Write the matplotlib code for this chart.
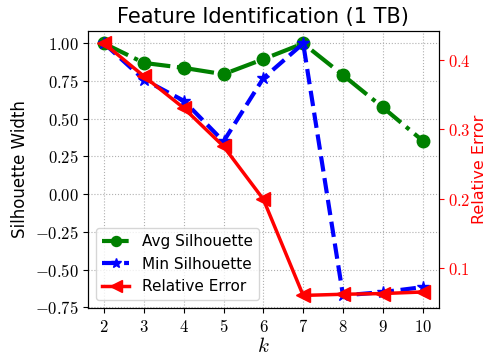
import numpy as np
import matplotlib
matplotlib.use("Agg")
import matplotlib.pyplot as plt
from matplotlib.ticker import FuncFormatter

plt.rcParams['mathtext.fontset'] = 'cm'
plt.rcParams['font.family'] = 'DejaVu Sans'

k = [2, 3, 4, 5, 6, 7, 8, 9, 10]
avg_sil = [1.0, 0.871, 0.838, 0.796, 0.896, 1.0, 0.79, 0.576, 0.355]
min_sil = [1.0, 0.76, 0.62, 0.35, 0.77, 1.0, -0.672, -0.65, -0.617]
rel_err = [0.4244, 0.377, 0.331, 0.2756, 0.199, 0.060, 0.0617, 0.0627, 0.065]

fig, ax = plt.subplots(figsize=(4.9, 3.59), dpi=100)
ax2 = ax.twinx()

l1, = ax.plot(k, avg_sil, color='green', ls='-.', marker='o', lw=3, ms=9, label='Avg Silhouette')
l2, = ax.plot(k, min_sil, color='blue', ls='--', marker='*', lw=3, ms=9, label='Min Silhouette')
l3, = ax2.plot(k, rel_err, color='red', ls='-', marker='<', lw=2.5, ms=10, label='Relative Error')

ax.grid(True, ls=':', color='#b0b0b0')
ax.set_xticks(k)
ax.set_yticks([-0.75, -0.5, -0.25, 0, 0.25, 0.5, 0.75, 1.0])
ax.xaxis.set_major_formatter(FuncFormatter(lambda v, p: r'$%d$' % v))
ax.yaxis.set_major_formatter(FuncFormatter(lambda v, p: r'$%.2f$' % v))
ax2.set_yticks([0.1, 0.2, 0.3, 0.4])
ax2.yaxis.set_major_formatter(FuncFormatter(lambda v, p: r'$%.1f$' % v))
ax.tick_params(labelsize=12)
ax2.tick_params(labelsize=12, colors='red')
ax2.spines['right'].set_color('black')

ax.set_xlabel(r'$k$', fontsize=15, labelpad=0)
ax.set_ylabel('Silhouette Width', fontsize=12)
ax2.set_ylabel('Relative Error', fontsize=11.5, color='red', labelpad=1)
ax.set_title('Feature Identification (1 TB)', fontsize=15)

ax.legend(handles=[l1, l2, l3], loc='lower left', fontsize=11,
          markerscale=0.8, handlelength=1.8)

fig.subplots_adjust(left=0.18, right=0.895, top=0.914, bottom=0.142)
fig.savefig('out.png', dpi=100)
